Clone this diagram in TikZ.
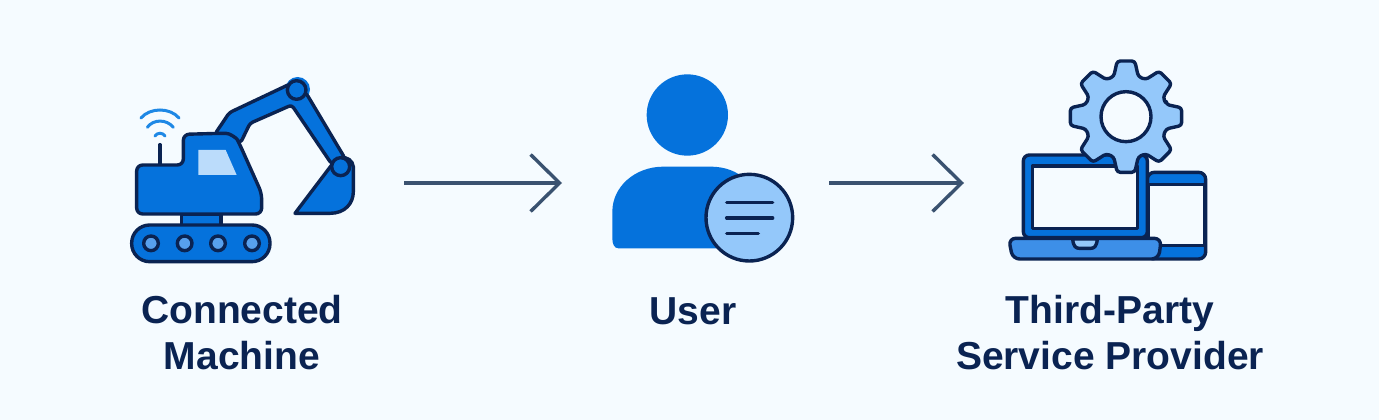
\documentclass[tikz,border=0pt]{standalone}
\usepackage{fontspec}
\setmainfont{Liberation Sans}
\usetikzlibrary{arrows.meta}
\definecolor{bgc}{HTML}{F5FBFF}
\definecolor{navy}{HTML}{0A2352}
\definecolor{mainblue}{HTML}{0572DC}
\definecolor{midblue}{HTML}{3D8FE8}
\definecolor{lightblue}{HTML}{94C8FA}
\definecolor{winblue}{HTML}{BBDCFB}
\definecolor{wifiblue}{HTML}{1E88E5}
\definecolor{arrowc}{HTML}{3A5270}
\tikzset{
  x=1pt,y=-1pt,
  icon/.style={inner sep=0pt,outer sep=0pt,minimum height=40pt},
  flowarrow/.style={draw=arrowc,line width=3.4pt,-{Straight Barb[length=29pt,width=57pt,line width=3.4pt]}},
  ink/.style={draw=navy,line width=3.4pt,line join=round},
  zoomA/.style={x=0.33333pt,y=-0.33333pt,shift={(120pt,-70pt)}},
  zoomB/.style={x=0.33333pt,y=-0.33333pt,shift={(600pt,-65pt)}},
  zoomC/.style={x=0.33333pt,y=-0.33333pt,shift={(1000pt,-55pt)}},
  lbl/.style={text=navy,align=center,font=\fontsize{39}{46}\selectfont\bfseries,inner sep=0pt},
}
\begin{document}
\begin{tikzpicture}
\useasboundingbox[fill=bgc] (0,0) rectangle (1379,420);
% anchor nodes for the icons
\node[icon,minimum width=274pt] (machine) at (267,183) {};
\node[icon,minimum width=267pt] (user) at (695.5,183) {};
\node[icon,minimum width=246pt] (provider) at (1087,183) {};
% machine
\begin{scope}[zoomA]
  \fill[mainblue] (533,58) circle[radius=37];
  \draw[ink,fill=mainblue,rounded corners=3pt] (285,192) -- (328,128) -- (510,42) -- (560,72) -- (675,265) -- (635,282) -- (515,105) -- (390,160) -- (362,218) -- cycle;
  \draw[ink,fill=mainblue] (635,285) -- (525,430) -- (630,430) .. controls (675,430) and (700,400) .. (700,365) -- (700,290) .. controls (698,270) and (680,262) .. (665,262) -- cycle;
  \draw[ink,fill=mainblue] (530,60) circle[radius=28];
  \draw[ink,fill=mainblue] (662,290) circle[radius=27];
  \draw[ink,fill=mainblue] (185,432) rectangle (303,466);
  \draw[ink,fill=mainblue,rounded corners=6pt] (50,285) -- (190,285) -- (190,193) -- (300,190) .. controls (330,190) and (350,205) .. (360,225) -- (425,370) -- (425,432) -- (50,432) -- cycle;
  \fill[winblue] (235,240) -- (317,240) -- (350,315) -- (235,315) -- cycle;
  \draw[ink,fill=mainblue,rounded corners=18pt] (35,465) rectangle (450,575);
  \foreach \wx in {93,194,294,396} \draw[ink,fill=midblue!70!lightblue] (\wx,520) circle[radius=22];
  \draw[navy,line width=3.4pt,line cap=round] (120,224) -- (120,280);
  \draw[wifiblue,line width=3pt,line cap=round] (105,198) .. controls (112,187) and (128,187) .. (135,198);
  \draw[wifiblue,line width=3pt,line cap=round] (82,172) .. controls (100,147) and (140,147) .. (160,172);
  \draw[wifiblue,line width=3pt,line cap=round] (63,144) .. controls (90,112) and (150,112) .. (177,144);
\end{scope}
% user
\begin{scope}[zoomB]
  \fill[mainblue] (262,150) circle[radius=122];
  \fill[mainblue] (37,520) -- (37,440) .. controls (37,365) and (105,305) .. (190,305) -- (330,305) .. controls (380,305) and (410,320) .. (440,345) -- (440,550) -- (55,550) .. controls (42,550) and (37,535) .. (37,520) -- cycle;
  \draw[ink,fill=lightblue] (448,458) circle[radius=130];
  \foreach \ya/\xb in {412/518,459/518,505/475} \draw[navy,line width=3.4pt,line cap=round] (380,\ya) -- (\xb,\ya);
\end{scope}
% provider
\begin{scope}[zoomC]
  \draw[ink,fill=mainblue,rounded corners=7pt] (442,352) -- (617,352) -- (617,612) -- (442,612) -- cycle;
  \draw[ink,fill=bgc] (444,388) rectangle (614,572);
  \draw[ink,fill=mainblue,rounded corners=6pt] (70,548) -- (70,300) -- (442,300) -- (442,548) -- cycle;
  \draw[ink,fill=bgc] (97,333) rectangle (412,520);
  \draw[ink,fill=midblue,rounded corners=7pt] (26,550) -- (484,550) -- (476,612) -- (38,612) -- cycle;
  \draw[ink,fill=lightblue] (218,552) .. controls (220,575) and (228,580) .. (238,580) -- (272,580) .. controls (282,580) and (290,575) .. (292,552) -- cycle;
  \begin{scope}[shift={(378,185)}]
    \draw[ink,fill=lightblue,rounded corners=3pt] (-17:126)
      \foreach \ang in {0,45,...,315} { -- ({\ang-17}:126) -- ({\ang-9}:169) -- ({\ang+9}:169) -- ({\ang+17}:126) } -- cycle;
    \draw[ink,fill=bgc] (0,0) circle[radius=75];
  \end{scope}
\end{scope}
% connectors
\draw[flowarrow] (machine.east) -- (user.west);
\draw[flowarrow] (user.east) -- (provider.west);
% labels
\node[lbl] (lmachine) at (242,333) {Connected\\Machine};
\node[lbl] (luser) at (693,311) {User};
\node[lbl] (lprovider) at (1110,333) {Third-Party\\Service Provider};
\end{tikzpicture}
\end{document}
